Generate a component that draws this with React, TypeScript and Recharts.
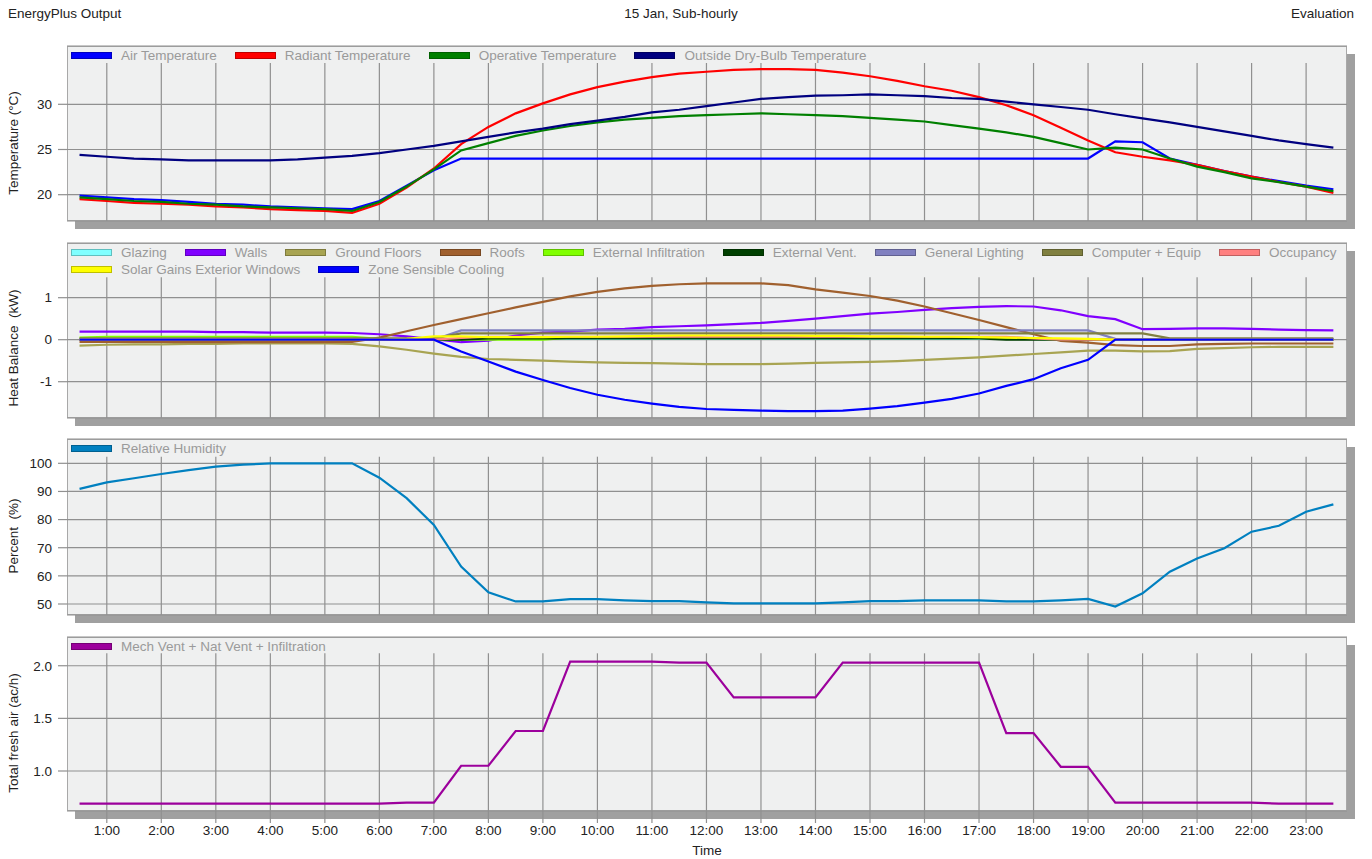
import React from "react";
import { LineChart, Line, XAxis, YAxis, CartesianGrid, ReferenceLine } from "recharts";

const times = [
  0.5, 1, 1.5, 2, 2.5, 3, 3.5, 4, 4.5, 5, 5.5, 6, 6.5, 7, 7.5, 8, 8.5, 9, 9.5, 10, 10.5, 11, 11.5, 12,
  12.5, 13, 13.5, 14, 14.5, 15, 15.5, 16, 16.5, 17, 17.5, 18, 18.5, 19, 19.5, 20, 20.5, 21, 21.5, 22,
  22.5, 23, 23.5,
];
const hourTicks = [1, 2, 3, 4, 5, 6, 7, 8, 9, 10, 11, 12, 13, 14, 15, 16, 17, 18, 19, 20, 21, 22, 23];

// temperatures (°C)
const airTemp = [
  19.9, 19.7, 19.5, 19.4, 19.2, 19.0, 18.9, 18.7, 18.6, 18.5, 18.4, 19.3, 21.0, 22.7, 24.0, 24.0, 24.0,
  24.0, 24.0, 24.0, 24.0, 24.0, 24.0, 24.0, 24.0, 24.0, 24.0, 24.0, 24.0, 24.0, 24.0, 24.0, 24.0, 24.0,
  24.0, 24.0, 24.0, 24.0, 25.9, 25.8, 24.0, 23.3, 22.6, 22.0, 21.5, 21.0, 20.6,
];
const radiantTemp = [
  19.5, 19.3, 19.1, 19.0, 18.9, 18.7, 18.6, 18.4, 18.3, 18.2, 18.0, 19.0, 20.8, 22.9, 25.6, 27.5, 29.0,
  30.1, 31.1, 31.9, 32.5, 33.0, 33.4, 33.6, 33.8, 33.9, 33.9, 33.8, 33.5, 33.1, 32.6, 32.0, 31.5, 30.8,
  29.9, 28.8, 27.4, 26.0, 24.7, 24.2, 23.8, 23.3, 22.6, 22.0, 21.4, 20.9, 20.2,
];
const operativeTemp = [
  19.7, 19.5, 19.3, 19.2, 19.0, 18.9, 18.7, 18.6, 18.5, 18.4, 18.2, 19.2, 20.9, 22.8, 24.9, 25.7, 26.5,
  27.1, 27.6, 28.0, 28.3, 28.5, 28.7, 28.8, 28.9, 29.0, 28.9, 28.8, 28.7, 28.5, 28.3, 28.1, 27.7, 27.3,
  26.9, 26.4, 25.7, 25.0, 25.2, 25.0, 24.0, 23.1, 22.5, 21.8, 21.4, 20.9, 20.4,
];
const outsideTemp = [
  24.4, 24.2, 24.0, 23.9, 23.8, 23.8, 23.8, 23.8, 23.9, 24.1, 24.3, 24.6, 25.0, 25.4, 25.9, 26.4, 26.9,
  27.3, 27.8, 28.2, 28.6, 29.1, 29.4, 29.8, 30.2, 30.6, 30.8, 30.95, 31.0, 31.1, 31.0, 30.9, 30.7, 30.6,
  30.3, 30.0, 29.7, 29.4, 28.9, 28.45, 28.0, 27.5, 27.0, 26.5, 26.0, 25.6, 25.2,
];

// heat balance (kW)
const glazing = [
  0, 0, 0, 0, 0, 0, 0, 0, 0, 0, 0, 0, 0, 0, 0.02, 0.02, 0.02, 0.02, 0.02, 0.02, 0.02, 0.02, 0.02, 0.02,
  0.02, 0.02, 0.02, 0.02, 0.02, 0.02, 0.02, 0.02, 0.02, 0.02, 0.02, 0.02, 0, 0, 0, 0, 0, 0, 0, 0, 0, 0, 0,
];
const walls = [
  0.19, 0.19, 0.19, 0.19, 0.19, 0.18, 0.18, 0.17, 0.17, 0.17, 0.16, 0.13, 0.08, 0.01, -0.06, -0.02, 0.1,
  0.17, 0.19, 0.24, 0.26, 0.3, 0.32, 0.34, 0.37, 0.4, 0.45, 0.5, 0.56, 0.62, 0.66, 0.71, 0.75, 0.78, 0.8,
  0.79, 0.7, 0.56, 0.49, 0.25, 0.26, 0.27, 0.27, 0.26, 0.24, 0.23, 0.22,
];
const groundFloors = [
  -0.14, -0.12, -0.11, -0.11, -0.1, -0.1, -0.09, -0.09, -0.09, -0.09, -0.1, -0.16, -0.24, -0.33, -0.41,
  -0.46, -0.48, -0.5, -0.52, -0.54, -0.55, -0.56, -0.57, -0.58, -0.58, -0.58, -0.57, -0.55, -0.54, -0.53,
  -0.51, -0.48, -0.45, -0.42, -0.38, -0.34, -0.3, -0.26, -0.26, -0.28, -0.27, -0.22, -0.2, -0.18, -0.17,
  -0.17, -0.17,
];
const roofs = [
  -0.05, -0.05, -0.05, -0.05, -0.06, -0.06, -0.06, -0.06, -0.06, -0.06, -0.05, 0.05, 0.2, 0.35, 0.49,
  0.63, 0.77, 0.9, 1.03, 1.14, 1.22, 1.28, 1.32, 1.34, 1.34, 1.34, 1.3, 1.2, 1.12, 1.04, 0.93, 0.79, 0.63,
  0.47, 0.3, 0.13, -0.03, -0.07, -0.13, -0.15, -0.15, -0.11, -0.1, -0.09, -0.09, -0.09, -0.09,
];
const extInfiltration = [
  0.05, 0.07, 0.07, 0.07, 0.07, 0.07, 0.07, 0.07, 0.07, 0.07, 0.07, 0.02, 0, 0, 0, 0, 0, 0, 0.05, 0.05,
  0.05, 0.05, 0.05, 0.05, 0.05, 0.05, 0.05, 0.05, 0.05, 0.05, 0.05, 0.05, 0.05, 0.05, 0.05, 0.03, 0, 0, 0,
  0, 0, 0, 0, 0, 0, 0, 0,
];
const extVent = [
  0, 0, 0, 0, 0, 0, 0, 0, 0, 0, 0, 0, 0, 0, 0, 0.03, 0.03, 0.03, 0.03, 0.03, 0.03, 0.03, 0.03, 0.03, 0.03,
  0.03, 0.03, 0.03, 0.03, 0.03, 0.03, 0.03, 0.03, 0.03, 0, 0, 0, 0, 0, 0, 0, 0, 0, 0, 0, 0, 0,
];
const lighting = [
  0, 0, 0, 0, 0, 0, 0, 0, 0, 0, 0, 0, 0, 0, 0.22, 0.22, 0.22, 0.22, 0.22, 0.22, 0.22, 0.22, 0.22, 0.22,
  0.22, 0.22, 0.22, 0.22, 0.22, 0.22, 0.22, 0.22, 0.22, 0.22, 0.22, 0.22, 0.22, 0.22, 0.02, 0, 0, 0, 0, 0,
  0, 0, 0,
];
const equipment = [
  0.03, 0.03, 0.03, 0.03, 0.03, 0.03, 0.03, 0.03, 0.03, 0.03, 0.03, 0.03, 0.03, 0.03, 0.15, 0.15, 0.15,
  0.15, 0.15, 0.15, 0.15, 0.15, 0.15, 0.15, 0.15, 0.15, 0.15, 0.15, 0.15, 0.15, 0.15, 0.15, 0.15, 0.15,
  0.15, 0.15, 0.15, 0.15, 0.15, 0.15, 0.03, 0.03, 0.03, 0.03, 0.03, 0.03, 0.03,
];
const occupancy = [
  0, 0, 0, 0, 0, 0, 0, 0, 0, 0, 0, 0, 0, 0, 0.04, 0.07, 0.07, 0.07, 0.07, 0.07, 0.07, 0.07, 0.07, 0.07,
  0.07, 0.07, 0.07, 0.07, 0.07, 0.07, 0.07, 0.07, 0.07, 0.07, 0.07, 0.03, 0, 0, 0, 0, 0, 0, 0, 0, 0, 0, 0,
];
const solarGains = [
  0, 0, 0, 0, 0, 0, 0, 0, 0, 0, 0, 0, 0.02, 0.08, 0.08, 0.06, 0.06, 0.06, 0.07, 0.07, 0.08, 0.09, 0.1,
  0.1, 0.1, 0.1, 0.1, 0.09, 0.09, 0.08, 0.08, 0.07, 0.07, 0.06, 0.05, 0.04, 0.03, 0.02, 0, 0, 0, 0, 0, 0,
  0, 0, 0,
];
const sensibleCooling = [
  0, 0, 0, 0, 0, 0, 0, 0, 0, 0, 0, 0, 0, 0, -0.28, -0.52, -0.76, -0.96, -1.15, -1.31, -1.43, -1.52, -1.6,
  -1.65, -1.67, -1.69, -1.7, -1.7, -1.69, -1.64, -1.58, -1.5, -1.41, -1.28, -1.1, -0.94, -0.68, -0.48, 0,
  0, 0, 0, 0, 0, 0, 0, 0,
];

// relative humidity (%)
const humidity = [
  90.9, 93.2, 94.7, 96.2, 97.6, 98.8, 99.5, 100, 100, 100, 100, 94.9, 87.6, 78.1, 63.3, 54.2, 50.9, 50.9,
  51.7, 51.7, 51.3, 51.0, 51.0, 50.6, 50.2, 50.2, 50.2, 50.2, 50.6, 51.0, 51.0, 51.3, 51.3, 51.3, 50.9,
  50.9, 51.3, 51.8, 49.1, 53.8, 61.5, 66.2, 69.8, 75.7, 77.8, 82.8, 85.4,
];

// total fresh air (ac/h)
const freshAir = [
  0.69, 0.69, 0.69, 0.69, 0.69, 0.69, 0.69, 0.69, 0.69, 0.69, 0.69, 0.69, 0.7, 0.7, 1.05, 1.05, 1.38,
  1.38, 2.04, 2.04, 2.04, 2.04, 2.03, 2.03, 1.7, 1.7, 1.7, 1.7, 2.03, 2.03, 2.03, 2.03, 2.03, 2.03, 1.36,
  1.36, 1.04, 1.04, 0.7, 0.7, 0.7, 0.7, 0.7, 0.7, 0.69, 0.69, 0.69,
];

const data = times.map((t, i) => ({
  t,
  air: airTemp[i],
  radiant: radiantTemp[i],
  operative: operativeTemp[i],
  outside: outsideTemp[i],
  glazing: glazing[i],
  walls: walls[i],
  ground: groundFloors[i],
  roofs: roofs[i],
  infil: extInfiltration[i],
  vent: extVent[i],
  lighting: lighting[i],
  equip: equipment[i],
  occupancy: occupancy[i],
  solar: solarGains[i],
  cooling: sensibleCooling[i],
  rh: humidity[i],
  fresh: freshAir[i],
}));

type Series = { key: string; name: string; color: string };

const FONT = '"Liberation Sans", Arial, sans-serif';
const GRID = "#909090";
const BOX_LEFT = 67;
const BOX_RIGHT = 1347;
const X_DOMAIN: [number, number] = [0.27, 23.75];

function LegendBox({ rows, top }: { rows: Series[][]; top: number }) {
  return (
    <div style={{ position: "absolute", left: 71, top, fontSize: 13.5, color: "#9a9a9a" }}>
      {rows.map((row, r) => (
        <div key={r} style={{ display: "flex", height: 17, alignItems: "center", whiteSpace: "nowrap" }}>
          {row.map((s) => (
            <div key={s.key} style={{ display: "flex", alignItems: "center", marginRight: 18 }}>
              <span
                style={{
                  width: 41,
                  height: 7,
                  background: s.color,
                  border: "1px solid rgba(0,0,0,0.25)",
                  boxSizing: "border-box",
                  marginRight: 9,
                }}
              />
              <span>{s.name}</span>
            </div>
          ))}
        </div>
      ))}
    </div>
  );
}

interface PanelProps {
  boxTop: number;
  boxBottom: number;
  gridTop: number;
  domain: [number, number];
  ticks: number[];
  tickFormat?: (v: number) => string;
  series: Series[];
  legendRows: Series[][];
  yLabel: string;
  showTime?: boolean;
}

function Panel({
  boxTop,
  boxBottom,
  gridTop,
  domain,
  ticks,
  tickFormat,
  series,
  legendRows,
  yLabel,
  showTime = false,
}: PanelProps) {
  const boxH = boxBottom - boxTop;
  const xHeight = showTime ? 40 : 0;
  const bottomPad = showTime ? 0 : 2;
  const legendBottom = boxTop + 1 + legendRows.length * 17;
  return (
    <>
      <div
        style={{
          position: "absolute",
          left: BOX_LEFT,
          top: boxTop,
          width: BOX_RIGHT - BOX_LEFT,
          height: boxH,
          background: "#eff0f0",
          border: "1px solid #a8a8a8",
          boxSizing: "border-box",
          boxShadow: "8px 8px 0 #a0a0a0",
        }}
      />
      <div
        style={{
          position: "absolute",
          left: 13,
          top: (legendBottom + boxBottom) / 2,
          transform: "translate(-50%, -50%) rotate(-90deg)",
          whiteSpace: "pre",
          fontSize: 13.5,
          color: "#222",
        }}
      >
        {yLabel}
      </div>
      <div style={{ position: "absolute", left: 0, top: boxTop - 10 }}>
        <LineChart
          width={1372}
          height={boxH + 10 + xHeight + bottomPad}
          data={data}
          margin={{ top: 10, right: 1372 - BOX_RIGHT, bottom: bottomPad, left: BOX_LEFT - 60 }}
        >
          <CartesianGrid vertical={false} stroke={GRID} strokeWidth={1.2} />
          <XAxis
            dataKey="t"
            type="number"
            domain={X_DOMAIN}
            allowDataOverflow
            ticks={hourTicks}
            hide={!showTime}
            height={xHeight}
            tickFormatter={(h: number) => `${h}:00`}
            tick={{ fill: "#222", fontSize: 13.5 }}
            tickLine={{ stroke: GRID, strokeWidth: 1.2 }}
            tickSize={12}
            tickMargin={2}
            axisLine={false}
            interval={0}
          />
          <YAxis
            type="number"
            domain={domain}
            allowDataOverflow
            ticks={ticks}
            width={60}
            tickFormatter={tickFormat}
            tick={{ fill: "#222", fontSize: 13.5 }}
            tickLine={{ stroke: GRID, strokeWidth: 1.2 }}
            tickSize={9}
            tickMargin={6}
            axisLine={false}
            interval={0}
          />
          {hourTicks.map((h) => (
            <ReferenceLine
              key={h}
              segment={[
                { x: h, y: domain[0] },
                { x: h, y: gridTop },
              ]}
              stroke={GRID}
              strokeWidth={1.2}
            />
          ))}
          {series.map((s) => (
            <Line
              key={s.key}
              type="linear"
              dataKey={s.key}
              name={s.name}
              stroke={s.color}
              strokeWidth={2.2}
              dot={false}
              activeDot={false}
              isAnimationActive={false}
            />
          ))}
        </LineChart>
      </div>
      <LegendBox rows={legendRows} top={boxTop + 1} />
    </>
  );
}

const tempSeries: Series[] = [
  { key: "air", name: "Air Temperature", color: "#0000ff" },
  { key: "radiant", name: "Radiant Temperature", color: "#ff0000" },
  { key: "operative", name: "Operative Temperature", color: "#008000" },
  { key: "outside", name: "Outside Dry-Bulb Temperature", color: "#000080" },
];

const heatSeries: Series[] = [
  { key: "glazing", name: "Glazing", color: "#80ffff" },
  { key: "walls", name: "Walls", color: "#8000ff" },
  { key: "ground", name: "Ground Floors", color: "#a8a452" },
  { key: "roofs", name: "Roofs", color: "#a0602e" },
  { key: "infil", name: "External Infiltration", color: "#80ff00" },
  { key: "vent", name: "External Vent.", color: "#004000" },
  { key: "lighting", name: "General Lighting", color: "#8080c0" },
  { key: "equip", name: "Computer + Equip", color: "#808040" },
  { key: "occupancy", name: "Occupancy", color: "#ff8080" },
  { key: "solar", name: "Solar Gains Exterior Windows", color: "#ffff00" },
  { key: "cooling", name: "Zone Sensible Cooling", color: "#0000ff" },
];

const rhSeries: Series[] = [{ key: "rh", name: "Relative Humidity", color: "#0080c0" }];
const freshSeries: Series[] = [
  { key: "fresh", name: "Mech Vent + Nat Vent + Infiltration", color: "#9c009c" },
];

export default function App() {
  return (
    <div
      style={{
        position: "absolute",
        left: 0,
        top: 0,
        width: 1372,
        height: 859,
        background: "#fff",
        fontFamily: FONT,
        overflow: "hidden",
      }}
    >
      <div style={{ position: "absolute", left: 8, top: 6, fontSize: 13.5, color: "#222" }}>
        EnergyPlus Output
      </div>
      <div
        style={{
          position: "absolute",
          left: 681,
          top: 6,
          transform: "translateX(-50%)",
          fontSize: 13.5,
          color: "#222",
          whiteSpace: "nowrap",
        }}
      >
        15 Jan, Sub-hourly
      </div>
      <div style={{ position: "absolute", right: 18, top: 6, fontSize: 13.5, color: "#222" }}>
        Evaluation
      </div>

      <Panel
        boxTop={46}
        boxBottom={221}
        gridTop={34.57}
        domain={[17.09, 36.45]}
        ticks={[20, 25, 30]}
        series={tempSeries}
        legendRows={[tempSeries]}
        yLabel="Temperature (°C)"
      />
      <Panel
        boxTop={243}
        boxBottom={418}
        gridTop={1.486}
        domain={[-1.864, 2.302]}
        ticks={[-1, 0, 1]}
        series={heatSeries}
        legendRows={[heatSeries.slice(0, 9), heatSeries.slice(9)]}
        yLabel="Heat Balance  (kW)"
      />
      <Panel
        boxTop={439}
        boxBottom={615}
        gridTop={102.35}
        domain={[46.09, 108.64]}
        ticks={[50, 60, 70, 80, 90, 100]}
        series={rhSeries}
        legendRows={[rhSeries]}
        yLabel="Percent  (%)"
      />
      <Panel
        boxTop={637}
        boxBottom={811}
        gridTop={2.118}
        domain={[0.62, 2.273]}
        ticks={[1.0, 1.5, 2.0]}
        tickFormat={(v: number) => v.toFixed(1)}
        series={freshSeries}
        legendRows={[freshSeries]}
        yLabel="Total fresh air (ac/h)"
        showTime
      />
      <div
        style={{
          position: "absolute",
          left: (BOX_LEFT + BOX_RIGHT) / 2,
          top: 843,
          transform: "translateX(-50%)",
          fontSize: 13.5,
          color: "#222",
        }}
      >
        Time
      </div>
    </div>
  );
}
